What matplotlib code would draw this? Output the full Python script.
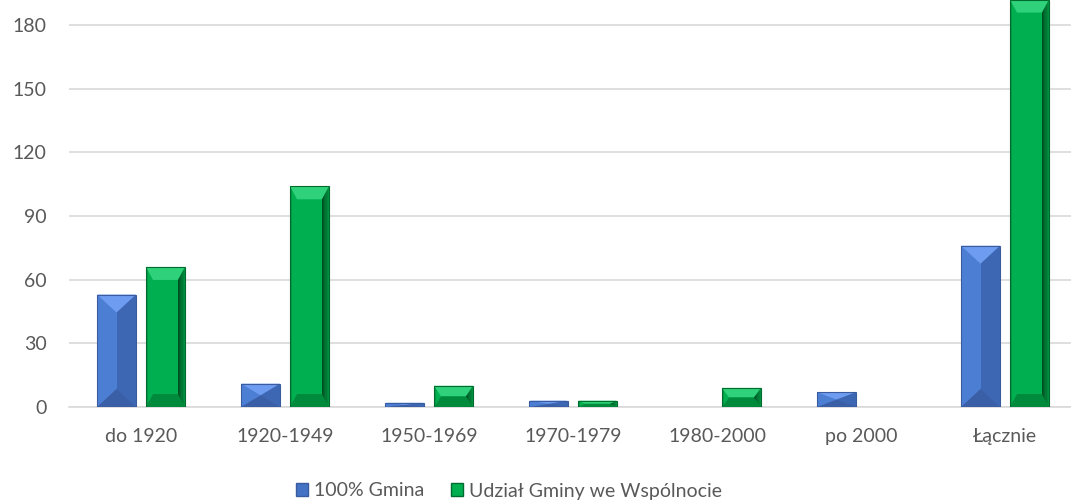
import matplotlib
matplotlib.use("Agg")
import matplotlib.pyplot as plt
from matplotlib.patches import Polygon, Patch
import numpy as np

categories = ["do 1920", "1920-1949", "1950-1969", "1970-1979", "1980-2000", "po 2000", "Łącznie"]
gmina_100 = [53, 11, 2, 3, 0, 7, 76]
udzial_gminy = [66, 104, 10, 3, 9, 0, 192]
series_labels = ["100% Gmina", "Udział Gminy we Wspólnocie"]
y_ticks = [0, 30, 60, 90, 120, 150, 180]

plt.rcParams['font.family'] = ['Lato', 'DejaVu Sans']

W, H = 1071, 503
fig = plt.figure(figsize=(W / 100, H / 100), dpi=100)
ax = fig.add_axes([69 / W, 96 / H, 1008 / W, 407 / H])

x = np.arange(len(categories))
bw = 0.27
off = 0.17

blue_main = "#4472C4"
green_main = "#00B050"

bars_b = ax.bar(x - off, gmina_100, width=bw, color=blue_main, zorder=3, linewidth=0)
bars_g = ax.bar(x + off, udzial_gminy, width=bw, color=green_main, zorder=3, linewidth=0)

ax.set_xlim(-0.5, len(categories) - 0.5)
ax.set_ylim(0, 191.8)

px_per_y = 407 / 191.8
px_per_x = 1008 / 7.0


def bevel_blue(rect):
    x0, w, h = rect.get_x(), rect.get_width(), rect.get_height()
    if h <= 0:
        return
    x1 = x0 + w
    xc = x0 + w / 2
    d = min(18 / px_per_y, h / 2)
    ax.add_patch(Polygon([[xc, 0], [x1, 0], [x1, h], [xc, h]], closed=True,
                         facecolor="#3E67B3", lw=0, zorder=3.1))
    ax.add_patch(Polygon([[x0, 0], [xc, 0], [xc, h], [x0, h]], closed=True,
                         facecolor="#4C7ED4", lw=0, zorder=3.1))
    ax.add_patch(Polygon([[x0, h], [x1, h], [xc, h - d]], closed=True,
                         facecolor="#6E9CF0", lw=0, zorder=3.2))
    ax.add_patch(Polygon([[x0, 0], [x1, 0], [xc, d]], closed=True,
                         facecolor="#3A5FA6", lw=0, zorder=3.2))
    ax.add_patch(Polygon([[x0, 0], [x1, 0], [x1, h], [x0, h]], closed=True,
                         facecolor="none", edgecolor="#3A5C9E", lw=0.8, zorder=3.3))


def bevel_green(rect):
    x0, w, h = rect.get_x(), rect.get_width(), rect.get_height()
    if h <= 0:
        return
    x1 = x0 + w
    d = min(13 / px_per_y, h / 2)
    e = 7 / px_per_x
    steps = 6
    for i in range(steps):
        xa = x1 - e * (i + 1) / steps
        xb = x1 - e * i / steps
        shade = 0.25 + 0.75 * i / steps
        col = (0.0, 0.69 * (1 - shade) + 0.25 * shade, 0.31 * (1 - shade) + 0.1 * shade)
        ax.add_patch(Polygon([[xa, 0], [xb, 0], [xb, h], [xa, h]], closed=True,
                             facecolor=col, lw=0, zorder=3.1))
    ax.add_patch(Polygon([[x0, 0], [x0 + e * 0.35, 0], [x0 + e * 0.35, h], [x0, h]], closed=True,
                         facecolor="#009A45", lw=0, zorder=3.1))
    ax.add_patch(Polygon([[x0, h], [x1, h], [x1 - e, h - d], [x0 + e, h - d]], closed=True,
                         facecolor="#2FD27A", lw=0, zorder=3.2))
    ax.add_patch(Polygon([[x0, 0], [x1, 0], [x1 - e, d], [x0 + e, d]], closed=True,
                         facecolor="#008A3C", lw=0, zorder=3.2))
    ax.add_patch(Polygon([[x0, 0], [x1, 0], [x1, h], [x0, h]], closed=True,
                         facecolor="none", edgecolor="#006B2E", lw=0.8, zorder=3.3))


for r in bars_b:
    bevel_blue(r)
for r in bars_g:
    bevel_green(r)

ax.set_yticks(y_ticks)
ax.set_xticks(x)
ax.set_xticklabels(categories)
ax.yaxis.grid(True, color="#D9D9D9", linewidth=1.2, zorder=0)
ax.set_axisbelow(True)
for s in ["top", "right", "left"]:
    ax.spines[s].set_visible(False)
ax.spines["bottom"].set_color("#D9D9D9")
ax.spines["bottom"].set_linewidth(1.2)
ax.tick_params(axis="both", length=0, colors="#595959", labelsize=14)
ax.tick_params(axis="y", pad=16)
ax.tick_params(axis="x", pad=15)

handles = [Patch(facecolor=blue_main, edgecolor="#3A5C9E"),
           Patch(facecolor=green_main, edgecolor="#006B2E")]
fig.legend(handles, series_labels, loc="center", bbox_to_anchor=(509 / W, 1 - 491 / H),
           ncol=2, frameon=False, fontsize=14, labelcolor="#595959",
           handlelength=0.6, handleheight=0.6, handletextpad=0.3, columnspacing=1.4)

fig.savefig("out.png", dpi=100)
